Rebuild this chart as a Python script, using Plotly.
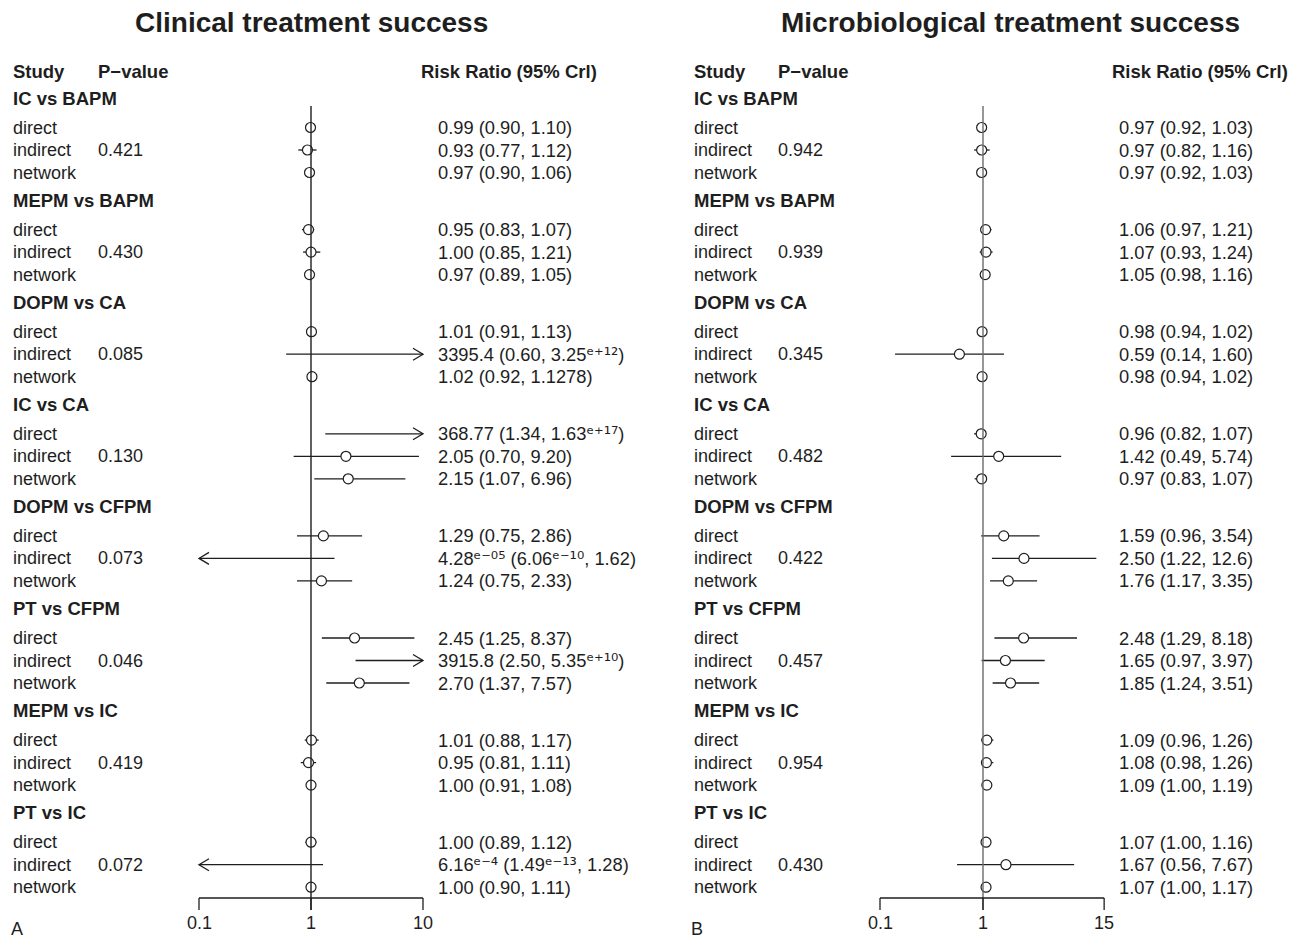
import math
import plotly.graph_objects as go

# ---------------------------------------------------------------- data
comparisons = ["IC vs BAPM", "MEPM vs BAPM", "DOPM vs CA", "IC vs CA",
               "DOPM vs CFPM", "PT vs CFPM", "MEPM vs IC", "PT vs IC"]
evidence = ["direct", "indirect", "network"]

# Clinical treatment success: one (direct, indirect, network) triple per comparison
clin_p = ["0.421", "0.430", "0.085", "0.130", "0.073", "0.046", "0.419", "0.072"]
clin_est = [["0.99", "0.93", "0.97"], ["0.95", "1.00", "0.97"],
            ["1.01", "3395.4", "1.02"], ["368.77", "2.05", "2.15"],
            ["1.29", "4.28e-05", "1.24"], ["2.45", "3915.8", "2.70"],
            ["1.01", "0.95", "1.00"], ["1.00", "6.16e-4", "1.00"]]
clin_lo = [["0.90", "0.77", "0.90"], ["0.83", "0.85", "0.89"],
           ["0.91", "0.60", "0.92"], ["1.34", "0.70", "1.07"],
           ["0.75", "6.06e-10", "0.75"], ["1.25", "2.50", "1.37"],
           ["0.88", "0.81", "0.91"], ["0.89", "1.49e-13", "0.90"]]
clin_hi = [["1.10", "1.12", "1.06"], ["1.07", "1.21", "1.05"],
           ["1.13", "3.25e+12", "1.1278"], ["1.63e+17", "9.20", "6.96"],
           ["2.86", "1.62", "2.33"], ["8.37", "5.35e+10", "7.57"],
           ["1.17", "1.11", "1.08"], ["1.12", "1.28", "1.11"]]

# Microbiological treatment success
micro_p = ["0.942", "0.939", "0.345", "0.482", "0.422", "0.457", "0.954", "0.430"]
micro_est = [["0.97", "0.97", "0.97"], ["1.06", "1.07", "1.05"],
             ["0.98", "0.59", "0.98"], ["0.96", "1.42", "0.97"],
             ["1.59", "2.50", "1.76"], ["2.48", "1.65", "1.85"],
             ["1.09", "1.08", "1.09"], ["1.07", "1.67", "1.07"]]
micro_lo = [["0.92", "0.82", "0.92"], ["0.97", "0.93", "0.98"],
            ["0.94", "0.14", "0.94"], ["0.82", "0.49", "0.83"],
            ["0.96", "1.22", "1.17"], ["1.29", "0.97", "1.24"],
            ["0.96", "0.98", "1.00"], ["1.00", "0.56", "1.00"]]
micro_hi = [["1.03", "1.16", "1.03"], ["1.21", "1.24", "1.16"],
            ["1.02", "1.60", "1.02"], ["1.07", "5.74", "1.07"],
            ["3.54", "12.6", "3.35"], ["8.18", "3.97", "3.51"],
            ["1.26", "1.26", "1.19"], ["1.16", "7.67", "1.17"]]

clin_ticks = [0.1, 1, 10]
micro_ticks = [0.1, 1, 15]

# ---------------------------------------------------------------- layout constants
W, H = 1300, 938
FONT = "Liberation Sans, Arial, sans-serif"
INK = "#1e1e1e"
GROUP_TOP, GROUP_STEP = 98.0, 102.1
FIRST_ROW, ROW_STEP = 29.5, 22.5
AXIS_Y, TICK_LEN = 898, 12
REF_TOP = 106

panels = [
    dict(title="Clinical treatment success", title_x=311, axis="x",
         dom=(0.0, 0.5), one_px=311, dec_px=112.0,
         label_x=12, p_x=97, val_x=437, head_x=420, tag="A", tag_x=17,
         p=clin_p, est=clin_est, lo=clin_lo, hi=clin_hi, ticks=clin_ticks,
         ref_color=INK),
    dict(title="Microbiological treatment success", title_x=1010, axis="x2",
         dom=(0.5, 1.0), one_px=983, dec_px=103.0,
         label_x=693, p_x=777, val_x=1118, head_x=1111, tag="B", tag_x=697,
         p=micro_p, est=micro_est, lo=micro_lo, hi=micro_hi, ticks=micro_ticks,
         ref_color="#6a6a6a"),
]

SUPER = str.maketrans("0123456789+-e", "⁰¹²³⁴⁵⁶⁷⁸⁹⁺⁻ᵉ")


def pretty(s):
    """Render a numeric string, writing exponents as raised characters."""
    if "e" in s:
        mant, ex = s.split("e")
        sup = ("e" + ex).translate(SUPER)
        return f"{mant}<span style='font-family:DejaVu Sans'>{sup}</span>"
    return s


fig = go.Figure()
annotations = []


def text(x, y, s, size=18, bold=False, anchor="left"):
    annotations.append(dict(
        x=x / W, y=y, xref="paper", yref="y", text=f"<b>{s}</b>" if bold else s,
        showarrow=False, xanchor=anchor, yanchor="middle",
        font=dict(family=FONT, size=size, color=INK), borderpad=0))


for pn in panels:
    lo_lim, hi_lim = min(pn["ticks"]), max(pn["ticks"])
    ax = pn["axis"]
    wing = 10 / pn["dec_px"]   # arrow wing length in decades

    seg_x, seg_y, arr_x, arr_y, pt_x, pt_y = [], [], [], [], [], []

    text(pn["title_x"], 22, pn["title"], size=28, bold=True, anchor="center")
    text(pn["label_x"], 71, "Study", size=18.5, bold=True)
    text(pn["p_x"], 71, "P\u2212value", size=18.5, bold=True)
    text(pn["head_x"], 71, "Risk Ratio (95% Crl)", size=18.5, bold=True)

    for g, comp in enumerate(comparisons):
        gy = GROUP_TOP + g * GROUP_STEP
        text(pn["label_x"], gy, comp, size=18.5, bold=True)
        for k, ev in enumerate(evidence):
            y = gy + FIRST_ROW + k * ROW_STEP
            text(pn["label_x"], y, ev)
            if ev == "indirect":
                text(pn["p_x"], y, pn["p"][g])
            e_s, l_s, h_s = pn["est"][g][k], pn["lo"][g][k], pn["hi"][g][k]
            text(pn["val_x"], y, f"{pretty(e_s)} ({pretty(l_s)}, {pretty(h_s)})", size=18.3)

            e, l, h = float(e_s), float(l_s), float(h_s)
            l_c, h_c = max(l, lo_lim), min(h, hi_lim)
            seg_x += [l_c, h_c, None]
            seg_y += [y, y, None]
            if h > hi_lim:
                back = hi_lim / 10 ** wing
                arr_x += [back, hi_lim, back, None]
                arr_y += [y - 6, y, y + 6, None]
            if l < lo_lim:
                fwd = lo_lim * 10 ** wing
                arr_x += [fwd, lo_lim, fwd, None]
                arr_y += [y - 6, y, y + 6, None]
            if lo_lim <= e <= hi_lim:
                pt_x.append(e)
                pt_y.append(y)

    line = dict(color=INK, width=1.3)
    fig.add_trace(go.Scatter(x=seg_x, y=seg_y, mode="lines", line=line,
                             xaxis=ax, yaxis="y", hoverinfo="skip"))
    fig.add_trace(go.Scatter(x=arr_x, y=arr_y, mode="lines", line=line,
                             xaxis=ax, yaxis="y", hoverinfo="skip"))
    fig.add_trace(go.Scatter(x=pt_x, y=pt_y, mode="markers",
                             marker=dict(symbol="circle", size=10, color="white",
                                         line=dict(color=INK, width=1.2)),
                             xaxis=ax, yaxis="y", hoverinfo="skip"))
    # reference line at RR = 1
    fig.add_trace(go.Scatter(x=[1, 1], y=[REF_TOP, AXIS_Y + TICK_LEN], mode="lines",
                             line=dict(color=pn["ref_color"], width=1.4),
                             xaxis=ax, yaxis="y", hoverinfo="skip"))
    # bottom axis with ticks
    bx, by = [lo_lim, hi_lim, None], [AXIS_Y, AXIS_Y, None]
    for t in pn["ticks"]:
        bx += [t, t, None]
        by += [AXIS_Y, AXIS_Y + TICK_LEN, None]
        tx = pn["one_px"] + math.log10(t) * pn["dec_px"]
        text(tx, 923, f"{t:g}", anchor="center")
    fig.add_trace(go.Scatter(x=bx, y=by, mode="lines", line=line,
                             xaxis=ax, yaxis="y", hoverinfo="skip"))
    text(pn["tag_x"], 929, pn["tag"], anchor="center")

# pixel-calibrated log axes for the two panels
axes = {}
for i, pn in enumerate(panels):
    d0, d1 = pn["dom"]
    left_px, right_px = d0 * W, d1 * W
    rng = [(left_px - pn["one_px"]) / pn["dec_px"], (right_px - pn["one_px"]) / pn["dec_px"]]
    key = "xaxis" if i == 0 else "xaxis2"
    axes[key] = dict(type="log", domain=[d0, d1], range=rng, visible=False,
                     fixedrange=True, anchor="y")

fig.update_layout(
    width=W, height=H, margin=dict(l=0, r=0, t=0, b=0),
    paper_bgcolor="white", plot_bgcolor="white", showlegend=False,
    yaxis=dict(range=[H, 0], domain=[0, 1], visible=False, fixedrange=True),
    annotations=annotations,
    **axes,
)

fig.write_html("out.html")
